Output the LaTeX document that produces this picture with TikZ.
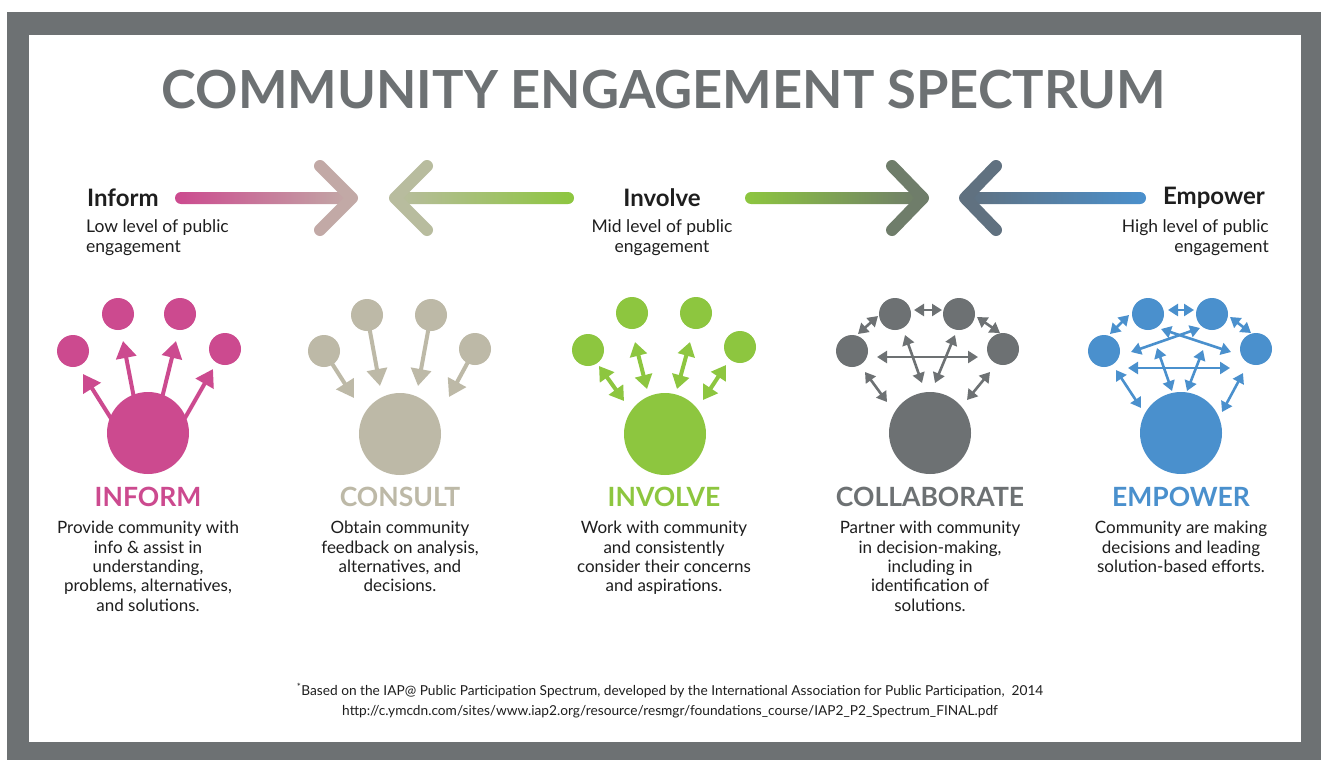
\documentclass[tikz,border=0pt]{standalone}
\usepackage{fontspec}
\setmainfont{Lato}
\usetikzlibrary{arrows.meta}
\definecolor{cmag}{HTML}{CC4A8F}
\definecolor{cbeige}{HTML}{BDB9A7}
\definecolor{cgreen}{HTML}{8DC63F}
\definecolor{cgray}{HTML}{6D7173}
\definecolor{cblue}{HTML}{4A90CD}
\definecolor{aone}{HTML}{C2A9A6}
\definecolor{atwo}{HTML}{B8BC9E}
\definecolor{athree}{HTML}{6F7D6A}
\definecolor{afour}{HTML}{607180}
\definecolor{ctext}{HTML}{1E1E1E}
\tikzset{
  chev/.style={line width=12pt, line cap=round, line join=round},
  big/.style={circle, inner sep=0pt, minimum size=82pt},
  small/.style={circle, inner sep=0pt, minimum size=32pt},
  oneway/.style={line width=4pt, -{Triangle[length=17pt,width=20pt]}},
  twoway/.style={line width=4pt, {Triangle[length=14pt,width=17pt]}-{Triangle[length=14pt,width=17pt]}},
  thinway/.style={line width=2.6pt, {Triangle[length=10pt,width=12pt]}-{Triangle[length=10pt,width=12pt]}},
  lvl/.style={font=\fontsize{24}{28}\selectfont\bfseries, text=ctext, inner sep=0pt},
  lvlsub/.style={font=\fontsize{17.5}{20}\selectfont, text=ctext, inner sep=0pt},
  head/.style={font=\fontsize{26.5}{32}\selectfont\bfseries, inner sep=0pt},
  desc/.style={font=\fontsize{17}{19.4}\selectfont, text=ctext, align=center, inner sep=0pt, anchor=north},
}
\begin{document}
\begin{tikzpicture}[x=1pt,y=-1pt]
\useasboundingbox (0,0) rectangle (1321,760);
\fill[white] (0,0) rectangle (1321,760);
\fill[cgray] (7,12) rectangle (1321,760);
\fill[white] (29,35) rectangle (1301,742);

% title
\node[font=\fontsize{52.5}{60}\selectfont\bfseries, text=cgray, inner sep=0pt] (title) at (664,90) {COMMUNITY ENGAGEMENT SPECTRUM};

% top arrows
\shade[left color=cmag, right color=aone, rounded corners=6pt] (175,192) rectangle (350,204);
\draw[chev, aone] (320,166) -- (352,198) -- (320,230);
\shade[left color=atwo, right color=cgreen, rounded corners=6pt] (397,192) rectangle (574,204);
\draw[chev, atwo] (427,166) -- (395,198) -- (427,230);
\shade[left color=cgreen, right color=athree, rounded corners=6pt] (745,192) rectangle (920,204);
\draw[chev, athree] (892,166) -- (923,198) -- (892,230);
\shade[left color=afour, right color=cblue, rounded corners=6pt] (967,192) rectangle (1146,204);
\draw[chev, afour] (996,166) -- (965,198) -- (996,230);

\node[lvl, anchor=west] (linform) at (87,198) {Inform};
\node[lvlsub, anchor=north west, align=left] (sinform) at (86,219) {Low level of public\\engagement};
\node[lvl] (linvolve) at (662,198) {Involve};
\node[lvlsub, anchor=north, align=center] (sinvolve) at (662,219) {Mid level of public\\engagement};
\node[lvl, anchor=east] (lempower) at (1265,198) {Empower};
\node[lvlsub, anchor=north east, align=right] (sempower) at (1269,219) {High level of public\\engagement};

% INFORM icon
\begin{scope}[cmag]
\node[big, fill=cmag] (ib) at (148,433) {};
\node[small, fill=cmag] (i1) at (73,351) {};
\node[small, fill=cmag] (i2) at (118,314) {};
\node[small, fill=cmag] (i3) at (180,314) {};
\node[small, fill=cmag] (i4) at (225,349) {};
\draw[oneway] (112,420) -- (83,374);
\draw[oneway] (134,398) -- (123,341);
\draw[oneway] (162,398) -- (176,341);
\draw[oneway] (185,418) -- (213,369);
\end{scope}

% CONSULT icon
\begin{scope}[cbeige]
\node[big, fill=cbeige] (cb) at (400,434) {};
\node[small, fill=cbeige] (c1) at (324,351) {};
\node[small, fill=cbeige] (c2) at (367,315) {};
\node[small, fill=cbeige] (c3) at (431,315) {};
\node[small, fill=cbeige] (c4) at (475,349) {};
\draw[oneway] (c1.center) -- (354,398);
\draw[oneway] (c2.center) -- (380,386);
\draw[oneway] (c3.center) -- (418,386);
\draw[oneway] (c4.center) -- (449,397);
\end{scope}

% INVOLVE icon
\begin{scope}[cgreen]
\node[big, fill=cgreen] (vb) at (665,434) {};
\node[small, fill=cgreen] (v1) at (588,350) {};
\node[small, fill=cgreen] (v2) at (632,313) {};
\node[small, fill=cgreen] (v3) at (696,313) {};
\node[small, fill=cgreen] (v4) at (740,347) {};
\draw[twoway] (599,366) -- (624,401);
\draw[twoway] (635,342) -- (647,389);
\draw[twoway] (690,342) -- (677,389);
\draw[twoway] (726,365) -- (703,400);
\end{scope}

% COLLABORATE icon
\begin{scope}[cgray]
\node[big, fill=cgray] (lb) at (930,433) {};
\node[small, fill=cgray] (l1) at (852,351) {};
\node[small, fill=cgray] (l2) at (895,314) {};
\node[small, fill=cgray] (l3) at (959,314) {};
\node[small, fill=cgray] (l4) at (1003,349) {};
\draw[thinway] (858,334) -- (878,316);
\draw[thinway] (914,310) -- (942,310);
\draw[thinway] (977,317) -- (1000,333);
\draw[thinway] (877,357) -- (978,357);
\draw[thinway] (905,335) -- (922,383);
\draw[thinway] (955,335) -- (935,383);
\draw[thinway] (865,372) -- (887,402);
\draw[thinway] (990,372) -- (967,400);
\end{scope}

% EMPOWER icon
\begin{scope}[cblue]
\node[big, fill=cblue] (eb) at (1181,433) {};
\node[small, fill=cblue] (e1) at (1104,351) {};
\node[small, fill=cblue] (e2) at (1148,314) {};
\node[small, fill=cblue] (e3) at (1212,314) {};
\node[small, fill=cblue] (e4) at (1256,349) {};
\draw[thinway] (1110,334) -- (1129,315);
\draw[thinway] (1168,310) -- (1194,310);
\draw[thinway] (1230,317) -- (1251,333);
\draw[thinway] (1161,329) -- (1231,352);
\draw[thinway] (1200,328) -- (1131,352);
\draw[thinway] (1128,368) -- (1230,368);
\draw[thinway] (1157,348) -- (1172,391);
\draw[thinway] (1203,350) -- (1187,391);
\draw[thinway] (1116,370) -- (1141,408);
\draw[thinway] (1243,373) -- (1222,412);
\end{scope}

% headings
\node[head, text=cmag] (hinform) at (148,497) {INFORM};
\node[head, text=cbeige] (hconsult) at (400,497) {CONSULT};
\node[head, text=cgreen] (hinvolve) at (664,497) {INVOLVE};
\node[head, text=cgray] (hcollab) at (930,497) {COLLABORATE};
\node[head, text=cblue] (hempower) at (1181,497) {EMPOWER};

% descriptions
\node[desc] (dinform) at (148,521) {Provide community with\\info \& assist in\\understanding,\\problems, alternatives,\\and solutions.};
\node[desc] (dconsult) at (400,521) {Obtain community\\feedback on analysis,\\alternatives, and\\decisions.};
\node[desc] (dinvolve) at (664,521) {Work with community\\and consistently\\consider their concerns\\and aspirations.};
\node[desc] (dcollab) at (930,521) {Partner with community\\in decision-making,\\including in\\identification of\\solutions.};
\node[desc] (dempower) at (1181,521) {Community are making\\decisions and leading\\solution-based efforts.};

% footnote
\node[font=\fontsize{13.7}{20}\selectfont, text=ctext, align=center, inner sep=0pt] (foot) at (670,701) {\textsuperscript{*}Based on the IAP@ Public Participation Spectrum, developed by the International Association for Public Participation,~~2014\\http://c.ymcdn.com/sites/www.iap2.org/resource/resmgr/foundations\_course/IAP2\_P2\_Spectrum\_FINAL.pdf};
\end{tikzpicture}
\end{document}
